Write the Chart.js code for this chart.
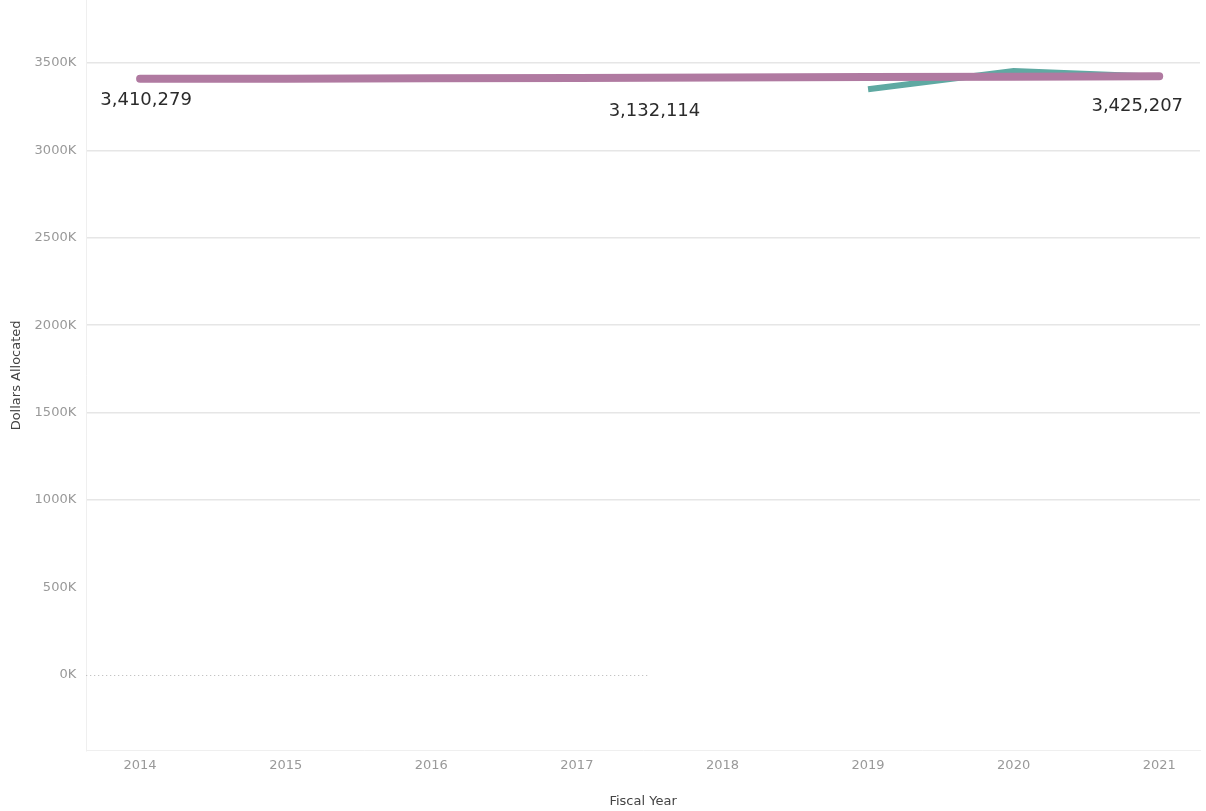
<!DOCTYPE html>
<html lang="en">
<head>
    <meta charset="UTF-8">
    <title>Dollars Allocated by Fiscal Year</title>
    <script src="https://cdn.jsdelivr.net/npm/chart.js"></script>
    <style>
        body {
            margin: 0;
            background: #fff;
        }
        canvas {
            display: block;
        }
    </style>
</head>
<body>
    <canvas id="allocChart" width="1206" height="811"></canvas>

    <script>
        // data
        const years = [2014, 2015, 2016, 2017, 2018, 2019, 2020, 2021];
        const allocated = [3410279, 3411000, 3413000, 3415000, 3418000, 3420000, 3422000, 3425207];
        const secondSeries = [null, null, null, null, null, 3350000, 3455000, 3422000];
        const yTicks = [0, 500000, 1000000, 1500000, 2000000, 2500000, 3000000, 3500000];
        const pointLabels = [
            { year: 2014, value: 3410279, text: '3,410,279', dx: 6, dy: 22 },
            { year: 2018, value: 3132114, text: '3,132,114', dx: -68, dy: -16 },
            { year: 2021, value: 3425207, text: '3,425,207', dx: -22, dy: 30 }
        ];
        const zeroLineEnd = 2017.5;

        const labelPlugin = {
            id: 'labels',
            afterDatasetsDraw(chart) {
                const { ctx, scales: { x, y } } = chart;
                ctx.save();
                ctx.font = '18px "DejaVu Sans"';
                ctx.fillStyle = '#2b2b2b';
                ctx.textAlign = 'center';
                ctx.textBaseline = 'middle';
                pointLabels.forEach(l => {
                    ctx.fillText(l.text, x.getPixelForValue(l.year) + l.dx, y.getPixelForValue(l.value) + l.dy);
                });
                ctx.restore();
            }
        };

        // dotted zero line
        const zeroLine = {
            id: 'zeroLine',
            beforeDatasetsDraw(chart) {
                const { ctx, chartArea, scales: { x, y } } = chart;
                const py = Math.round(y.getPixelForValue(0)) + 0.5;
                ctx.save();
                ctx.strokeStyle = '#b5b5b5';
                ctx.lineWidth = 1;
                ctx.setLineDash([1, 3]);
                ctx.beginPath();
                ctx.moveTo(chartArea.left, py);
                ctx.lineTo(x.getPixelForValue(zeroLineEnd), py);
                ctx.stroke();
                ctx.restore();
            }
        };

        const ctx = document.getElementById('allocChart').getContext('2d');
        new Chart(ctx, {
            type: 'line',
            data: {
                datasets: [{
                    label: 'Dollars Allocated',
                    data: years.map((yr, i) => ({ x: yr, y: allocated[i] })),
                    borderColor: '#b07aa1',
                    borderWidth: 8,
                    borderCapStyle: 'round',
                    pointRadius: 0,
                    tension: 0,
                    fill: false
                }, {
                    label: 'Other',
                    data: years.map((yr, i) => ({ x: yr, y: secondSeries[i] })),
                    borderColor: '#5fa9a2',
                    borderWidth: 6,
                    pointRadius: 0,
                    tension: 0,
                    fill: false
                }]
            },
            options: {
                responsive: false,
                animation: false,
                layout: { padding: { top: 0, right: 6, left: 9, bottom: 0 } },
                plugins: {
                    legend: { display: false },
                    tooltip: { enabled: false }
                },
                scales: {
                    x: {
                        type: 'linear',
                        min: 2013.63,
                        max: 2021.28,
                        afterBuildTicks: s => { s.ticks = years.map(v => ({ value: v })); },
                        grid: { display: false, drawTicks: false },
                        border: { color: '#efefef', width: 1 },
                        ticks: {
                            color: '#999',
                            font: { family: 'DejaVu Sans', size: 13 },
                            padding: 7,
                            maxRotation: 0,
                            callback: v => String(v)
                        },
                        title: {
                            display: true,
                            text: 'Fiscal Year',
                            color: '#444',
                            font: { family: 'DejaVu Sans', size: 13 },
                            padding: { top: 13, bottom: 2 }
                        }
                    },
                    y: {
                        min: -435000,
                        max: 3861000,
                        afterBuildTicks: s => { s.ticks = yTicks.map(v => ({ value: v })); },
                        afterFit: s => { s.paddingTop = 0; },
                        grid: {
                            drawTicks: false,
                            lineWidth: 1.5,
                            color: c => (c.tick && (c.tick.value === 0 || c.tick.value === 500000)) ? 'rgba(0,0,0,0)' : '#e6e6e6'
                        },
                        border: { color: '#efefef', width: 1 },
                        ticks: {
                            color: '#999',
                            font: { family: 'DejaVu Sans', size: 13 },
                            padding: 10,
                            callback: v => (v / 1000) + 'K'
                        },
                        title: {
                            display: true,
                            text: 'Dollars Allocated',
                            color: '#444',
                            font: { family: 'DejaVu Sans', size: 13 },
                            padding: { top: 0, bottom: 0 }
                        }
                    }
                }
            },
            plugins: [zeroLine, labelPlugin]
        });
    </script>
</body>
</html>
